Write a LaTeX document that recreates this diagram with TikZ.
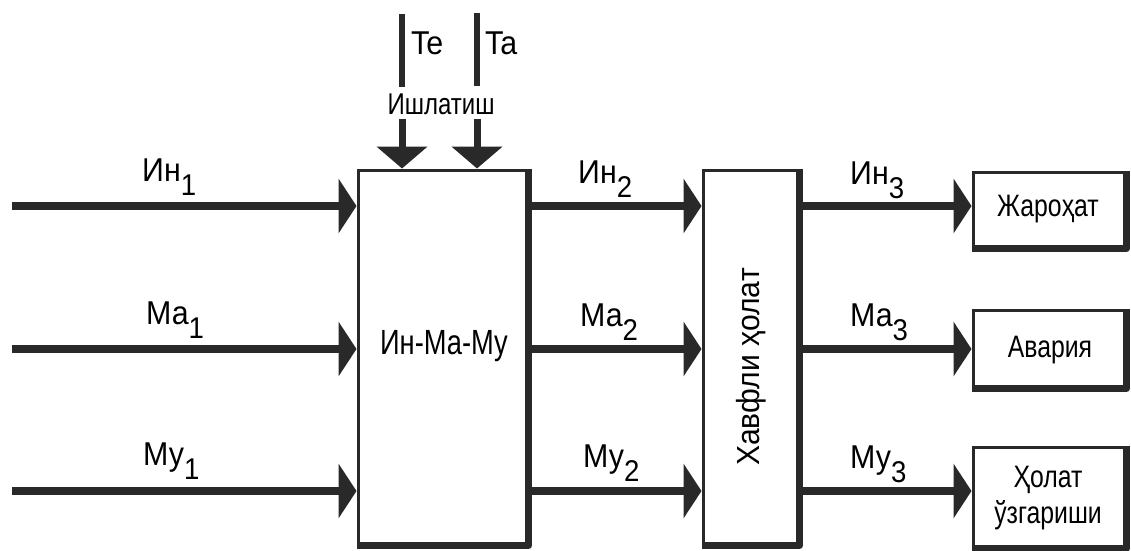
\documentclass[tikz,border=0pt]{standalone}
\usepackage{fontspec}
\setmainfont{Liberation Sans}
\newfontfamily\fA[FakeStretch=0.92]{Liberation Sans}
\newfontfamily\fB[FakeStretch=0.78]{Liberation Sans}
\newfontfamily\fC[FakeStretch=0.8]{Liberation Sans}
\newfontfamily\fD[FakeStretch=0.94]{Liberation Sans}
\usetikzlibrary{arrows.meta}
\definecolor{ink}{gray}{0.16}
\newcommand{\lsub}[1]{\raisebox{-14pt}{\fontsize{30}{30}\selectfont #1}}
\begin{document}
\begin{tikzpicture}[x=1pt,y=-1pt,
  ink/.style={draw=ink,color=ink},
  flow/.style={ink,line width=8pt,-{Triangle[length=18pt,width=54pt]}},
  drop/.style={ink,line width=7pt,-{Triangle[length=22pt,width=50pt]}},
  feed/.style={ink,line width=6pt},
  thin/.style={draw=ink,line width=3pt,fill=white,inner sep=0pt},
  thick/.style={ink,line width=7pt,line join=round},
  lbl/.style={text=black,font=\fA\fontsize{33}{33}\selectfont,inner sep=0pt,anchor=base west},
  boxtxt/.style={text=black,font=\fC\fontsize{31}{36}\selectfont,align=center,inner sep=0pt}]
\useasboundingbox (0,0) rectangle (1131,550);

% boxes
\node[thin,minimum width=169pt,minimum height=374pt] (main) at (442.5,357) {};
\node[thin,minimum width=95pt,minimum height=374pt] (haz) at (750.5,357) {};
\node[thin,minimum width=152pt,minimum height=75pt] (o1) at (1049,209.5) {};
\node[thin,minimum width=152pt,minimum height=77pt] (o2) at (1049,348.5) {};
\node[thin,minimum width=152pt,minimum height=100pt] (o3) at (1049,497) {};
\foreach \b in {main,haz,o1,o2,o3}{
  \draw[thick] (\b.north east) -- (\b.south east) -- (\b.south west);
}

% texts in boxes
\node[text=black,font=\fB\fontsize{35}{35}\selectfont,inner sep=0pt] (mt) at (444,346) {Ин-Ма-Му};
\node[text=black,font=\fD\fontsize{32}{32}\selectfont,inner sep=0pt,rotate=90] (ht) at (751,367) {Хавфли ҳолат};
\node[boxtxt] (t1) at (1048,209) {Жароҳат};
\node[boxtxt] (t2) at (1050,350) {Авария};
\node[boxtxt] (t3) at (1048,498) {Ҳолат\\ўзгариши};

% input arrows
\coordinate (s1) at (12,206);
\coordinate (s2) at (12,349);
\coordinate (s3) at (12,491);
\draw[flow] (s1) -- (s1 -| main.west);
\draw[flow] (s2) -- (s2 -| main.west);
\draw[flow] (s3) -- (s3 -| main.west);
% middle arrows
\draw[flow] (main.east |- s1) -- (haz.west |- s1);
\draw[flow] (main.east |- s2) -- (haz.west |- s2);
\draw[flow] (main.east |- s3) -- (haz.west |- s3);
% output arrows
\draw[flow] (haz.east |- s1) -- (o1.west |- s1);
\draw[flow] (haz.east |- s2) -- (o2.west |- s2);
\draw[flow] (haz.east |- s3) -- (o3.west |- s3);

% top
\coordinate (te1) at (402,14);
\coordinate (te2) at (402,87);
\coordinate (ta1) at (477,13);
\coordinate (ta2) at (477,86);
\draw[feed] (te1) -- (te2);
\draw[feed] (ta1) -- (ta2);
\node[lbl] (te) at (411,54) {Te};
\node[lbl] (ta) at (485,54) {Ta};
\node[text=black,font=\fC\fontsize{30}{30}\selectfont,inner sep=0pt,anchor=base] (ish) at (441,114) {Ишлатиш};
\coordinate (d1) at (402,119);
\coordinate (d2) at (477,119);
\draw[drop] (d1) -- (d1 |- main.north);
\draw[drop] (d2) -- (d2 |- main.north);

% labels
\node[lbl] (l1) at (142,181) {Ин\lsub{1}};
\node[lbl] (l2) at (146,324) {Ма\lsub{1}};
\node[lbl] (l3) at (143,465) {Му\lsub{1}};
\node[lbl] (l4) at (578,183) {Ин\lsub{2}};
\node[lbl] (l5) at (580,326) {Ма\lsub{2}};
\node[lbl] (l6) at (583,467) {Му\lsub{2}};
\node[lbl] (l7) at (850,184) {Ин\lsub{3}};
\node[lbl] (l8) at (850,326) {Ма\lsub{3}};
\node[lbl] (l9) at (850,468) {Му\lsub{3}};
\end{tikzpicture}
\end{document}
